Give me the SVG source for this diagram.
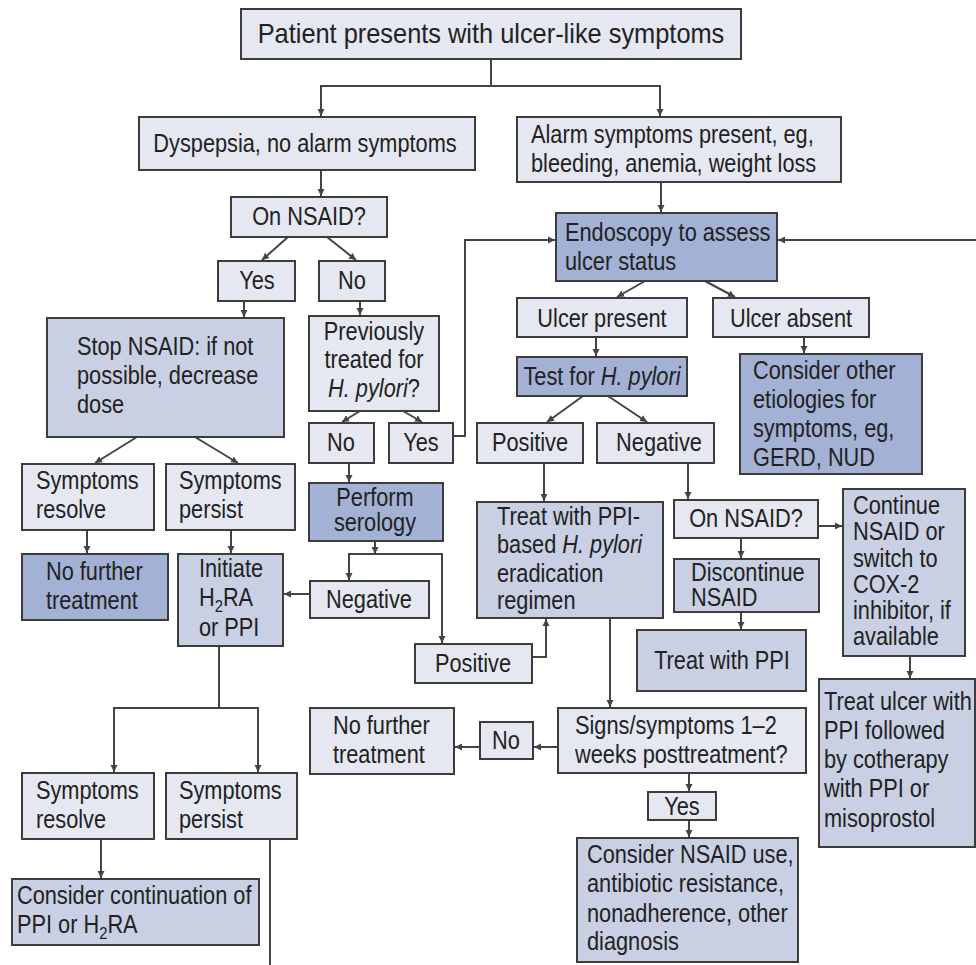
<svg xmlns="http://www.w3.org/2000/svg" width="976" height="965" viewBox="0 0 976 965">
<style>
rect{stroke:#3c3c3c;stroke-width:2}
.l{fill:#e5e7f1}
.m{fill:#c9d0e4}
.d{fill:#a3b1d5}
text{font-family:"Liberation Sans",Arial,sans-serif;font-size:25px;fill:#222}
.c{text-anchor:middle}
.i{font-style:italic}
#connectors path{fill:none;stroke:#444;stroke-width:2}
</style>
<defs>
<marker id="ah" markerUnits="userSpaceOnUse" markerWidth="8" markerHeight="8" refX="7" refY="4" orient="auto">
<path d="M0,0.5 L7,4 L0,7.5 z" fill="#444"/>
</marker>
</defs>
<rect width="976" height="965" fill="#fff" style="stroke:none"/>
<g id="connectors">
<path d="M491,59 V86 H321 V116" marker-end="url(#ah)"/>
<path d="M491,86 H660 V116" marker-end="url(#ah)"/>
<path d="M321,170 V196" marker-end="url(#ah)"/>
<path d="M288,237 L262,260" marker-end="url(#ah)"/>
<path d="M327,237 L356,260" marker-end="url(#ah)"/>
<path d="M244,301 V317" marker-end="url(#ah)"/>
<path d="M360,301 V315" marker-end="url(#ah)"/>
<path d="M360,411 L342,422" marker-end="url(#ah)"/>
<path d="M403,411 L422,422" marker-end="url(#ah)"/>
<path d="M453,436 H465 V240 H555" marker-end="url(#ah)"/>
<path d="M976,240 H778" marker-end="url(#ah)"/>
<path d="M661,182 V212" marker-end="url(#ah)"/>
<path d="M645,281 L617,297" marker-end="url(#ah)"/>
<path d="M705,281 L735,297" marker-end="url(#ah)"/>
<path d="M596,337 V356" marker-end="url(#ah)"/>
<path d="M804,337 V353" marker-end="url(#ah)"/>
<path d="M583,396 L547,422" marker-end="url(#ah)"/>
<path d="M608,396 L647,422" marker-end="url(#ah)"/>
<path d="M544,463 V501" marker-end="url(#ah)"/>
<path d="M688,463 V499" marker-end="url(#ah)"/>
<path d="M818,526 H842" marker-end="url(#ah)"/>
<path d="M741,538 V558" marker-end="url(#ah)"/>
<path d="M741,612 V629" marker-end="url(#ah)"/>
<path d="M910,656 V678" marker-end="url(#ah)"/>
<path d="M610,618 V707" marker-end="url(#ah)"/>
<path d="M558,747 H534" marker-end="url(#ah)"/>
<path d="M480,747 H455" marker-end="url(#ah)"/>
<path d="M689,773 V791" marker-end="url(#ah)"/>
<path d="M689,820 V837" marker-end="url(#ah)"/>
<path d="M137,437 L95,463" marker-end="url(#ah)"/>
<path d="M195,437 L238,463" marker-end="url(#ah)"/>
<path d="M87,530 V553" marker-end="url(#ah)"/>
<path d="M231,530 V553" marker-end="url(#ah)"/>
<path d="M349,463 V482" marker-end="url(#ah)"/>
<path d="M375,541 V554" marker-end="url(#ah)"/>
<path d="M375,554 H349 V580" marker-end="url(#ah)"/>
<path d="M375,554 H442 V643" marker-end="url(#ah)"/>
<path d="M310,594 H284" marker-end="url(#ah)"/>
<path d="M532,657 H546 V619" marker-end="url(#ah)"/>
<path d="M219,646 V708 H114 V772" marker-end="url(#ah)"/>
<path d="M219,708 H258 V772" marker-end="url(#ah)"/>
<path d="M101,839 V878" marker-end="url(#ah)"/>
<path d="M270,839 V965"/>
</g>
<g id="n_patient"><rect class="l" x="241" y="9" width="500" height="50"/><g transform="matrix(0.94,0,0,1,29.46,0)"><text class="c" x="491" y="43" style="font-size:27px">Patient presents with ulcer-like symptoms</text></g></g>
<g id="n_dyspepsia"><rect class="l" x="139" y="117" width="336" height="53"/><g transform="matrix(0.87,0,0,1,39.65,0)"><text class="c" x="305" y="152">Dyspepsia, no alarm symptoms</text></g></g>
<g id="n_alarm"><rect class="l" x="517" y="117" width="324" height="65"/><g transform="matrix(0.87,0,0,1,69.03,0)"><text x="531" y="143">Alarm symptoms present, eg,</text><text x="531" y="172">bleeding, anemia, weight loss</text></g></g>
<g id="n_onnsaid1"><rect class="l" x="231" y="197" width="156" height="40"/><g transform="matrix(0.87,0,0,1,40.17,0)"><text class="c" x="309" y="225">On NSAID?</text></g></g>
<g id="n_yes1"><rect class="l" x="218" y="261" width="77" height="40"/><g transform="matrix(0.87,0,0,1,33.41,0)"><text class="c" x="257" y="289">Yes</text></g></g>
<g id="n_no1"><rect class="l" x="319" y="261" width="66" height="40"/><g transform="matrix(0.87,0,0,1,45.76,0)"><text class="c" x="352" y="289">No</text></g></g>
<g id="n_stop"><rect class="m" x="47" y="318" width="237" height="119"/><g transform="matrix(0.87,0,0,1,10.01,0)"><text x="77" y="355">Stop NSAID: if not</text><text x="77" y="384">possible, decrease</text><text x="77" y="413">dose</text></g></g>
<g id="n_prev"><rect class="l" x="309" y="316" width="130" height="95"/><g transform="matrix(0.87,0,0,1,48.62,0)"><text class="c" x="374" y="340">Previously</text><text class="c" x="374" y="368">treated for</text><text class="c" x="374" y="397"><tspan class="i">H. pylori</tspan>?</text></g></g>
<g id="n_no2"><rect class="l" x="309" y="423" width="65" height="40"/><g transform="matrix(0.87,0,0,1,44.33,0)"><text class="c" x="341" y="451">No</text></g></g>
<g id="n_yes2"><rect class="l" x="389" y="423" width="64" height="40"/><g transform="matrix(0.87,0,0,1,54.73,0)"><text class="c" x="421" y="451">Yes</text></g></g>
<g id="n_endo"><rect class="d" x="556" y="213" width="221" height="68"/><g transform="matrix(0.87,0,0,1,73.45,0)"><text x="565" y="241">Endoscopy to assess</text><text x="565" y="270">ulcer status</text></g></g>
<g id="n_ulcerp"><rect class="l" x="517" y="298" width="170" height="39"/><g transform="matrix(0.87,0,0,1,78.26,0)"><text class="c" x="602" y="327">Ulcer present</text></g></g>
<g id="n_ulcera"><rect class="l" x="713" y="298" width="156" height="39"/><g transform="matrix(0.87,0,0,1,102.83,0)"><text class="c" x="791" y="327">Ulcer absent</text></g></g>
<g id="n_test"><rect class="d" x="517" y="357" width="170" height="39"/><g transform="matrix(0.87,0,0,1,78.26,0)"><text class="c" x="602" y="385">Test for <tspan class="i">H. pylori</tspan></text></g></g>
<g id="n_other"><rect class="d" x="740" y="354" width="182" height="120"/><g transform="matrix(0.87,0,0,1,97.89,0)"><text x="753" y="379">Consider other</text><text x="753" y="408">etiologies for</text><text x="753" y="437">symptoms, eg,</text><text x="753" y="466">GERD, NUD</text></g></g>
<g id="n_pos1"><rect class="l" x="477" y="423" width="106" height="40"/><g transform="matrix(0.87,0,0,1,68.9,0)"><text class="c" x="530" y="451">Positive</text></g></g>
<g id="n_neg1"><rect class="l" x="597" y="423" width="117" height="40"/><g transform="matrix(0.87,0,0,1,85.67,0)"><text class="c" x="659" y="451">Negative</text></g></g>
<g id="n_treathp"><rect class="m" x="477" y="502" width="186" height="116"/><g transform="matrix(0.87,0,0,1,64.61,0)"><text x="497" y="525">Treat with PPI-</text><text x="497" y="553">based <tspan class="i">H. pylori</tspan></text><text x="497" y="582">eradication</text><text x="497" y="609">regimen</text></g></g>
<g id="n_onnsaid2"><rect class="l" x="674" y="500" width="144" height="38"/><g transform="matrix(0.87,0,0,1,96.98,0)"><text class="c" x="746" y="527">On NSAID?</text></g></g>
<g id="n_continue"><rect class="m" x="843" y="489" width="122" height="167"/><g transform="matrix(0.87,0,0,1,110.89,0)"><text x="853" y="514">Continue</text><text x="853" y="540">NSAID or</text><text x="853" y="567">switch to</text><text x="853" y="593">COX-2</text><text x="853" y="619">inhibitor, if</text><text x="853" y="645">available</text></g></g>
<g id="n_discont"><rect class="m" x="674" y="559" width="145" height="53"/><g transform="matrix(0.87,0,0,1,89.83,0)"><text x="691" y="581">Discontinue</text><text x="691" y="606">NSAID</text></g></g>
<g id="n_treatppi"><rect class="m" x="637" y="630" width="169" height="61"/><g transform="matrix(0.87,0,0,1,93.86,0)"><text class="c" x="722" y="669">Treat with PPI</text></g></g>
<g id="n_treatulcer"><rect class="m" x="819" y="679" width="156" height="168"/><g transform="matrix(0.87,0,0,1,107.12,0)"><text x="824" y="710">Treat ulcer with</text><text x="824" y="739">PPI followed</text><text x="824" y="768">by cotherapy</text><text x="824" y="797">with PPI or</text><text x="824" y="827">misoprostol</text></g></g>
<g id="n_signs"><rect class="l" x="558" y="708" width="248" height="65"/><g transform="matrix(0.87,0,0,1,74.75,0)"><text x="575" y="734">Signs/symptoms 1–2</text><text x="575" y="763">weeks posttreatment?</text></g></g>
<g id="n_no3"><rect class="l" x="480" y="722" width="53" height="37"/><g transform="matrix(0.87,0,0,1,65.78,0)"><text class="c" x="506" y="749">No</text></g></g>
<g id="n_nofurther2"><rect class="l" x="310" y="708" width="144" height="66"/><g transform="matrix(0.87,0,0,1,43.29,0)"><text x="333" y="734">No further</text><text x="333" y="763">treatment</text></g></g>
<g id="n_yes3"><rect class="l" x="648" y="792" width="68" height="28"/><g transform="matrix(0.87,0,0,1,88.66,0)"><text class="c" x="682" y="815">Yes</text></g></g>
<g id="n_considernsaid"><rect class="m" x="577" y="838" width="221" height="124"/><g transform="matrix(0.87,0,0,1,76.31,0)"><text x="587" y="863">Consider NSAID use,</text><text x="587" y="892">antibiotic resistance,</text><text x="587" y="922">nonadherence, other</text><text x="587" y="950">diagnosis</text></g></g>
<g id="n_resolve1"><rect class="l" x="22" y="464" width="132" height="66"/><g transform="matrix(0.87,0,0,1,4.68,0)"><text x="36" y="489">Symptoms</text><text x="36" y="518">resolve</text></g></g>
<g id="n_persist1"><rect class="l" x="166" y="464" width="129" height="66"/><g transform="matrix(0.87,0,0,1,23.27,0)"><text x="179" y="489">Symptoms</text><text x="179" y="518">persist</text></g></g>
<g id="n_nofurther1"><rect class="d" x="22" y="554" width="146" height="66"/><g transform="matrix(0.87,0,0,1,5.98,0)"><text x="46" y="580">No further</text><text x="46" y="609">treatment</text></g></g>
<g id="n_initiate"><rect class="m" x="178" y="554" width="105" height="92"/><g transform="matrix(0.87,0,0,1,25.87,0)"><text x="199" y="577">Initiate</text><text x="199" y="606">H<tspan style="font-size:17px" dy="6">2</tspan><tspan dy="-6">RA</tspan></text><text x="199" y="636">or PPI</text></g></g>
<g id="n_serology"><rect class="d" x="309" y="483" width="134" height="58"/><g transform="matrix(0.87,0,0,1,48.75,0)"><text class="c" x="375" y="506">Perform</text><text class="c" x="375" y="531">serology</text></g></g>
<g id="n_neg2"><rect class="l" x="310" y="581" width="119" height="37"/><g transform="matrix(0.87,0,0,1,47.97,0)"><text class="c" x="369" y="608">Negative</text></g></g>
<g id="n_pos2"><rect class="l" x="415" y="644" width="117" height="39"/><g transform="matrix(0.87,0,0,1,61.49,0)"><text class="c" x="473" y="672">Positive</text></g></g>
<g id="n_resolve2"><rect class="l" x="22" y="773" width="132" height="66"/><g transform="matrix(0.87,0,0,1,4.68,0)"><text x="36" y="799">Symptoms</text><text x="36" y="828">resolve</text></g></g>
<g id="n_persist2"><rect class="l" x="166" y="773" width="131" height="66"/><g transform="matrix(0.87,0,0,1,23.27,0)"><text x="179" y="799">Symptoms</text><text x="179" y="828">persist</text></g></g>
<g id="n_contin"><rect class="m" x="12" y="879" width="247" height="66"/><g transform="matrix(0.87,0,0,1,2.21,0)"><text x="17" y="904">Consider continuation of</text><text x="17" y="933">PPI or H<tspan style="font-size:17px" dy="6">2</tspan><tspan dy="-6">RA</tspan></text></g></g>
</svg>
